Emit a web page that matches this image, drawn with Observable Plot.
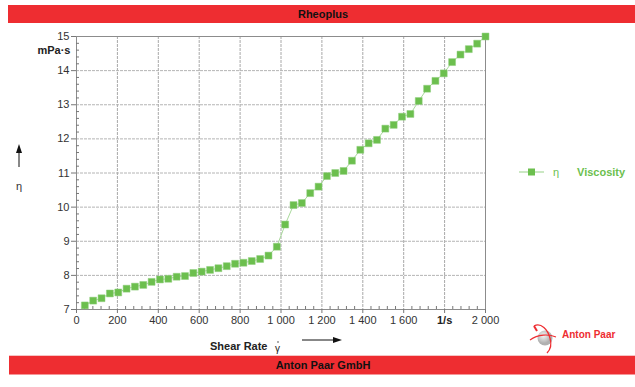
<!DOCTYPE html>
<html><head><meta charset="utf-8">
<script src="https://cdn.jsdelivr.net/npm/d3@7"></script>
<script src="https://cdn.jsdelivr.net/npm/@observablehq/plot@0.6"></script>
<style>
body{margin:0;background:#fff}
#chart{position:relative;width:635px;height:387px}
svg{display:block}
</style>
</head><body><div id="chart"></div>
<script>
// ---- data ----
const shearRate = [40.8, 81.6, 122.4, 163.3, 204.1, 244.9, 285.7, 326.5, 367.3, 408.2,
  449.0, 489.8, 530.6, 571.4, 612.2, 653.1, 693.9, 734.7, 775.5, 816.3,
  857.1, 898.0, 938.8, 979.6, 1020.4, 1061.2, 1102.0, 1142.9, 1183.7, 1224.5,
  1265.3, 1306.1, 1346.9, 1387.8, 1428.6, 1469.4, 1510.2, 1551.0, 1591.8, 1632.7,
  1673.5, 1714.3, 1755.1, 1795.9, 1836.7, 1877.6, 1918.4, 1959.2, 2000.0];
const viscosity = [7.12, 7.26, 7.33, 7.47, 7.50, 7.61, 7.67, 7.72, 7.81, 7.88,
  7.90, 7.96, 7.98, 8.07, 8.11, 8.16, 8.21, 8.27, 8.34, 8.37,
  8.42, 8.48, 8.58, 8.84, 9.49, 10.06, 10.12, 10.41, 10.60, 10.91,
  11.00, 11.06, 11.36, 11.68, 11.87, 11.97, 12.30, 12.41, 12.65, 12.73,
  13.11, 13.47, 13.70, 13.92, 14.25, 14.47, 14.63, 14.79, 15.00];
const xTickValues = [0, 200, 400, 600, 800, 1000, 1200, 1400, 1600, 1800, 2000];
const yTickValues = [7, 8, 9, 10, 11, 12, 13, 14, 15];
const xUnitLabel = "1/s";
const yUnitLabel = "mPa·s";
const seriesSymbol = "η";
const seriesName = "Viscosity";
const topTitle = "Rheoplus";
const bottomTitle = "Anton Paar GmbH";
const xAxisTitle = "Shear Rate";

const data = shearRate.map((x, i) => ({x, y: viscosity[i]}));
const xMinor = d3.range(0, 2001, 40).filter(d => d % 200 !== 0);
const yMinor = d3.range(7, 15.001, 0.2).map(d => +d.toFixed(1)).filter(d => Math.abs(d - Math.round(d)) > 1e-6);
const fmt = d3.formatLocale({decimal: ".", thousands: " ", grouping: [3], currency: ["", ""]}).format(",");

const green = "#6cbf4e";
const lineGreen = "#a9d99b";
const red = "#ee2d31";
const font = "'Liberation Sans', Arial, sans-serif";

const plot = Plot.plot({
  width: 635, height: 387,
  marginLeft: 76, marginRight: 150, marginTop: 36, marginBottom: 78,
  x: {domain: [0, 2000]},
  y: {domain: [7, 15]},
  style: {fontFamily: font, fontSize: "11px", color: "#333", background: "#fff"},
  marks: [
    Plot.gridX(xTickValues.slice(1, -1), {stroke: "#a8a8a8", strokeOpacity: 1, strokeDasharray: "3,1"}),
    Plot.gridY(yTickValues.slice(1, -1), {stroke: "#b4b4b4", strokeOpacity: 1, strokeDasharray: "3,1"}),
    Plot.frame({stroke: "#8c8c8c"}),
    Plot.axisX({ticks: xTickValues.filter(d => d !== 1800), tickFormat: fmt, tickSize: 4, tickPadding: 3, label: null, stroke: "#777", fill: "#333"}),
    Plot.axisX({ticks: [1800], tickFormat: () => xUnitLabel, tickSize: 4, tickPadding: 3, label: null, fontWeight: "bold", stroke: "#777", fill: "#222"}),
    Plot.axisX({ticks: xMinor, tickSize: 3, text: null, label: null, dy: -3, stroke: "#777"}),
    Plot.axisY({ticks: yTickValues, tickSize: 5, tickPadding: 2, label: null, stroke: "#777", fill: "#333"}),
    Plot.axisY({ticks: [14.6], tickFormat: () => yUnitLabel, tickSize: 0, tickPadding: 6, label: null, fontWeight: "bold", fill: "#222"}),
    Plot.axisY({ticks: yMinor, tickSize: 3, text: null, label: null, dx: 3, stroke: "#777"}),
    Plot.line(data, {x: "x", y: "y", stroke: lineGreen, strokeWidth: 1}),
    Plot.dot(data, {x: "x", y: "y", symbol: "square", r: 3.9, fill: green, stroke: "#8fcf7c", strokeWidth: 0.5})
  ]
});

const svg = d3.select(plot);
function txt(x, y, s, opts = {}) {
  return svg.append("text").attr("x", x).attr("y", y)
    .attr("text-anchor", opts.anchor || "start")
    .attr("dy", opts.dy || null)
    .attr("font-family", font).attr("font-size", opts.size || 11)
    .attr("font-weight", opts.weight || "normal")
    .attr("fill", opts.fill || "#333").text(s);
}
// top banner
svg.append("rect").attr("x", 8).attr("y", 5).attr("width", 627).attr("height", 18).attr("fill", red);
txt(323, 14, topTitle, {anchor: "middle", dy: "0.35em", weight: "bold", fill: "#111"});
// bottom banner
svg.append("line").attr("x1", 9).attr("x2", 635).attr("y1", 355.5).attr("y2", 355.5).attr("stroke", "#f6c4c4");
svg.append("rect").attr("x", 9).attr("y", 356).attr("width", 626).attr("height", 18.5).attr("fill", red);
txt(323, 365.5, bottomTitle, {anchor: "middle", dy: "0.35em", weight: "bold", fill: "#111"});

// y-axis title: arrow + symbol
svg.append("line").attr("x1", 19).attr("x2", 19).attr("y1", 167).attr("y2", 151).attr("stroke", "#111").attr("stroke-width", 1);
svg.append("path").attr("d", "M19,144 L16,153 L22,153 Z").attr("fill", "#111");
txt(19, 190, seriesSymbol, {anchor: "middle"});

// x-axis title
txt(210, 350, xAxisTitle, {weight: "bold", fill: "#222"});
txt(277.5, 352, "γ", {anchor: "middle", size: 10, fill: "#222"});
svg.append("circle").attr("cx", 278).attr("cy", 342).attr("r", 0.8).attr("fill", "#444");
svg.append("line").attr("x1", 302).attr("x2", 334).attr("y1", 340).attr("y2", 340).attr("stroke", "#111");
svg.append("path").attr("d", "M342,340 L333,337 L333,343 Z").attr("fill", "#111");

// legend
svg.append("line").attr("x1", 519).attr("x2", 544).attr("y1", 172).attr("y2", 172).attr("stroke", lineGreen).attr("stroke-width", 1.2);
svg.append("rect").attr("x", 528).attr("y", 168.5).attr("width", 7).attr("height", 7).attr("fill", green);
txt(556, 172, seriesSymbol, {anchor: "middle", dy: "0.35em", fill: green});
txt(577, 172, seriesName, {dy: "0.35em", weight: "bold", fill: green});

// logo
const g = svg.append("g");
const grad = svg.append("defs").append("radialGradient").attr("id", "lg").attr("cx", "40%").attr("cy", "35%");
grad.append("stop").attr("offset", "0%").attr("stop-color", "#f4f4f4");
grad.append("stop").attr("offset", "100%").attr("stop-color", "#b0b0b0");
g.append("circle").attr("cx", 545).attr("cy", 338).attr("r", 7.5).attr("fill", "url(#lg)");
g.append("path").attr("d", "M534,326 C541,322 548,330 550,338 C552,345 550,350 547,353").attr("fill", "none").attr("stroke", red).attr("stroke-width", 1.3);
g.append("path").attr("d", "M530,340 C538,334 549,334 556,337").attr("fill", "none").attr("stroke", red).attr("stroke-width", 1.1);
g.append("path").attr("d", "M534,326 L537,331").attr("stroke", red).attr("stroke-width", 2);
txt(562, 334, "Anton Paar", {dy: "0.35em", size: 10, weight: "bold", fill: red});

document.getElementById("chart").appendChild(plot);
</script>
</body></html>
